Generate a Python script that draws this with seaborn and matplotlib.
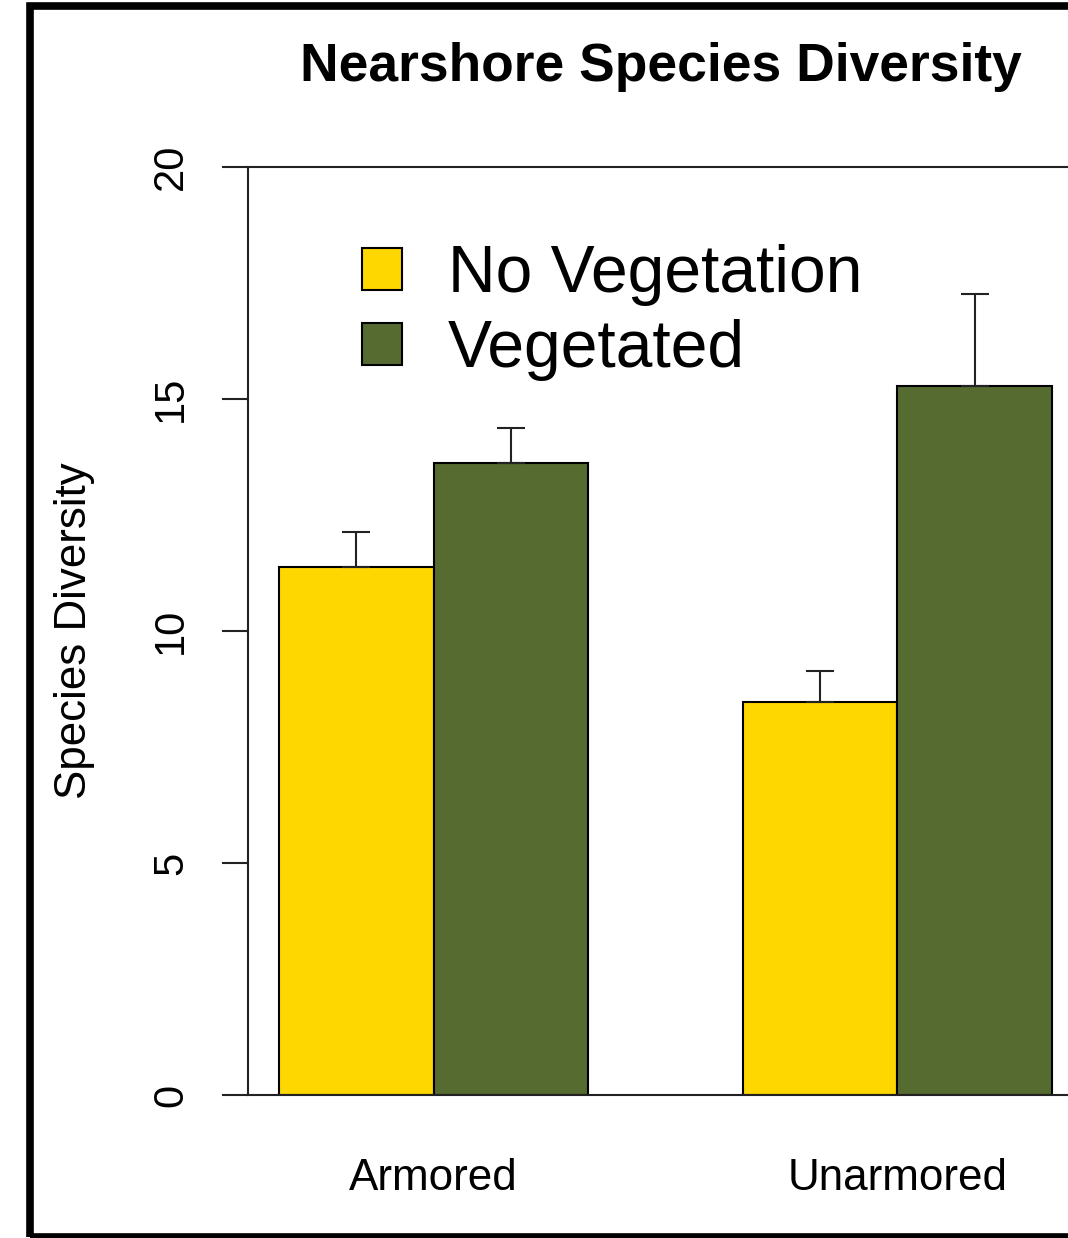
import pandas as pd
import matplotlib.pyplot as plt
import seaborn as sns
from matplotlib.patches import Rectangle

shore_types = ["Armored", "Unarmored"]
vegetation = ["No Vegetation", "Vegetated"]
diversity_armored = [11.38, 13.62]
diversity_unarmored = [8.47, 15.28]
se_armored = [0.75, 0.75]
se_unarmored = [0.67, 1.98]
bar_colors = ["#FFD700", "#556B2F"]

df = pd.DataFrame({
    "shore": [shore_types[0]] * 2 + [shore_types[1]] * 2,
    "veg": vegetation * 2,
    "diversity": diversity_armored + diversity_unarmored,
    "se": se_armored + se_unarmored,
})

sns.set_style("white")
plt.rcParams["font.family"] = ["Liberation Sans", "DejaVu Sans"]
plt.rcParams["text.color"] = "black"
plt.rcParams["axes.labelcolor"] = "black"
plt.rcParams["xtick.color"] = "black"
plt.rcParams["ytick.color"] = "black"

W, H = 1068, 1238
fig = plt.figure(figsize=(W / 100, H / 100), dpi=100)
# axes box runs past the right edge of the picture (cropped like the original)
left, right, top, bottom = 248, 1083, 167, 1095
ax = fig.add_axes([left / W, 1 - bottom / H, (right - left) / W, (bottom - top) / H])

sns.barplot(data=df, x="shore", y="diversity", hue="veg", hue_order=vegetation,
            palette=bar_colors, width=2 / 3, errorbar=None, edgecolor="black",
            linewidth=1.5, saturation=1, ax=ax)

# upward-only error bars at the bar centres
for bar, (_, row) in zip(ax.patches, df.sort_values(["veg", "shore"]).iterrows()):
    xc = bar.get_x() + bar.get_width() / 2
    ax.errorbar(xc, bar.get_height(), yerr=[[0], [row["se"]]], fmt="none",
                ecolor="#222222", elinewidth=1.5, capsize=10, capthick=1.5)

ax.set_xlim(-0.4, 1.4)
ax.set_ylim(0, 20)
ax.set_yticks([0, 5, 10, 15, 20])
ax.tick_params(axis="y", length=19, width=1.5, pad=22, labelsize=30,
               labelrotation=90, left=True, color="#222222")
ax.tick_params(axis="x", length=0, pad=45, labelsize=31.7)
for lab in ax.get_yticklabels():
    lab.set_va("center")
for s in ["left", "top", "bottom"]:
    ax.spines[s].set_linewidth(1.5)
    ax.spines[s].set_color("#222222")
ax.spines["right"].set_visible(False)

ax.set_xlabel("")
ax.set_ylabel("Species Diversity", fontsize=31.6, labelpad=40)
ax.set_title("Nearshore Species Diversity", fontsize=38.4, fontweight="bold",
             pad=62, x=(661 - left) / (right - left))

handles, labels = ax.get_legend_handles_labels()
ax.legend(handles, labels, loc="upper left",
          bbox_to_anchor=((362 - left) / (right - left), 1 - (244 - top) / (bottom - top)),
          frameon=False, fontsize=47.5, handlelength=0.6, handleheight=0.6,
          handletextpad=0.7, labelspacing=0.2, borderpad=0, borderaxespad=0)

# outer frame of the original picture
fig.patches.append(Rectangle((30 / W, 1 - 1237 / H), 2, (1237 - 6) / H,
                             transform=fig.transFigure, fill=False,
                             edgecolor="black", linewidth=5.5))

fig.savefig("out.png", dpi=100)
